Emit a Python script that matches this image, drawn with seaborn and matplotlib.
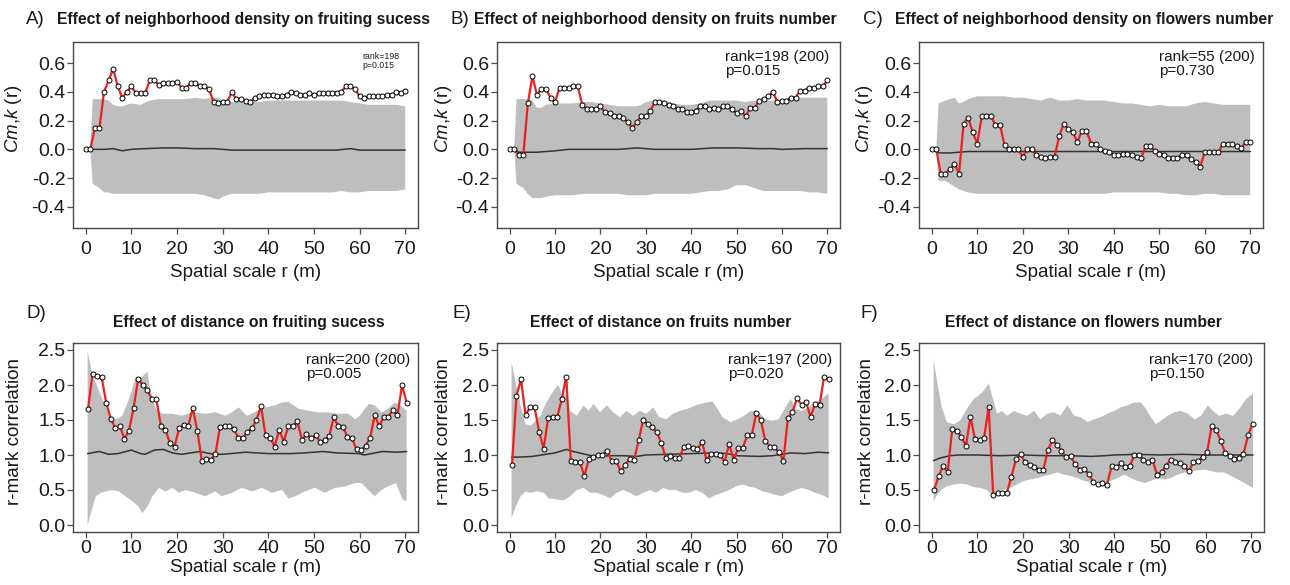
import numpy as np
import pandas as pd
import matplotlib
matplotlib.use("Agg")
import matplotlib.pyplot as plt
import seaborn as sns

# ---------------- data ----------------
# top row: neighborhood density (Cm,k(r)), r = 0..70
A_obs = [0.00, 0.00, 0.15, 0.15, 0.40, 0.48, 0.56, 0.44, 0.36, 0.40,
         0.44, 0.39, 0.39, 0.39, 0.48, 0.48, 0.45, 0.46, 0.46, 0.46,
         0.47, 0.43, 0.43, 0.46, 0.46, 0.44, 0.44, 0.42, 0.33, 0.32,
         0.33, 0.33, 0.40, 0.35, 0.35, 0.34, 0.33, 0.36, 0.37, 0.38,
         0.38, 0.38, 0.37, 0.37, 0.38, 0.40, 0.39, 0.38, 0.38, 0.39,
         0.38, 0.39, 0.39, 0.39, 0.39, 0.39, 0.40, 0.44, 0.44, 0.42,
         0.37, 0.36, 0.37, 0.37, 0.37, 0.37, 0.38, 0.38, 0.40, 0.39,
         0.41]
B_obs = [0.00, 0.00, -0.04, -0.04, 0.32, 0.51, 0.38, 0.42, 0.42, 0.36,
         0.33, 0.43, 0.43, 0.43, 0.44, 0.44, 0.31, 0.28, 0.28, 0.28,
         0.30, 0.26, 0.25, 0.23, 0.23, 0.22, 0.19, 0.15, 0.19, 0.23,
         0.23, 0.27, 0.33, 0.33, 0.32, 0.31, 0.30, 0.28, 0.28, 0.26,
         0.26, 0.27, 0.30, 0.30, 0.28, 0.29, 0.28, 0.30, 0.30, 0.28,
         0.25, 0.27, 0.23, 0.29, 0.29, 0.34, 0.35, 0.37, 0.40, 0.33,
         0.34, 0.34, 0.36, 0.36, 0.41, 0.41, 0.43, 0.43, 0.44, 0.44,
         0.48]
C_obs = [0.00, 0.00, -0.17, -0.17, -0.14, -0.10, -0.17, 0.18, 0.22, 0.12,
         0.04, 0.23, 0.23, 0.23, 0.17, 0.17, 0.03, 0.00, 0.00, 0.00,
         -0.05, 0.00, 0.00, -0.04, -0.05, -0.06, -0.05, -0.05, 0.09, 0.18,
         0.14, 0.12, 0.05, 0.13, 0.13, 0.04, 0.04, 0.00, -0.01, -0.02,
         -0.04, -0.04, -0.03, -0.03, -0.04, -0.05, -0.06, 0.02, 0.02, -0.01,
         -0.03, -0.04, -0.06, -0.06, -0.06, -0.04, -0.04, -0.07, -0.09, -0.12,
         -0.02, -0.02, -0.02, -0.02, 0.04, 0.04, 0.04, 0.02, 0.01, 0.05,
         0.05]

TOP_ENV_R = [1, 1.5, 3, 4, 5, 6, 7, 8, 10, 12, 14, 16, 18, 20, 22, 24, 26, 28, 29, 30,
             32, 34, 36, 38, 40, 42, 44, 46, 48, 50, 52, 54, 56, 58, 60, 62, 64, 66, 68, 70]
A_hi = [0.0, 0.35, 0.35, 0.35, 0.34, 0.31, 0.30, 0.30, 0.32, 0.31, 0.34, 0.35, 0.35, 0.35,
        0.35, 0.36, 0.35, 0.36, 0.36, 0.34, 0.33, 0.33, 0.33, 0.33, 0.34, 0.34, 0.34, 0.34,
        0.34, 0.34, 0.34, 0.34, 0.34, 0.33, 0.32, 0.31, 0.31, 0.31, 0.31, 0.30]
A_lo = [0.0, -0.24, -0.27, -0.30, -0.30, -0.31, -0.31, -0.31, -0.31, -0.31, -0.31, -0.31,
        -0.31, -0.31, -0.31, -0.31, -0.32, -0.34, -0.35, -0.33, -0.31, -0.31, -0.31, -0.31,
        -0.30, -0.30, -0.30, -0.30, -0.30, -0.30, -0.30, -0.30, -0.29, -0.30, -0.30, -0.29,
        -0.29, -0.29, -0.29, -0.28]
B_hi = [0.0, 0.35, 0.35, 0.35, 0.34, 0.29, 0.29, 0.31, 0.32, 0.32, 0.32, 0.33, 0.33, 0.32,
        0.31, 0.30, 0.30, 0.30, 0.31, 0.33, 0.34, 0.34, 0.32, 0.31, 0.31, 0.32, 0.34, 0.34,
        0.34, 0.34, 0.33, 0.34, 0.34, 0.34, 0.34, 0.35, 0.36, 0.36, 0.36, 0.36]
B_lo = [0.0, -0.24, -0.27, -0.31, -0.34, -0.34, -0.34, -0.33, -0.32, -0.32, -0.32, -0.31,
        -0.31, -0.31, -0.31, -0.31, -0.32, -0.32, -0.32, -0.32, -0.31, -0.31, -0.31, -0.31,
        -0.31, -0.30, -0.29, -0.29, -0.28, -0.25, -0.25, -0.27, -0.29, -0.29, -0.29, -0.29,
        -0.29, -0.30, -0.30, -0.31]
C_hi = [0.0, 0.32, 0.34, 0.35, 0.36, 0.32, 0.33, 0.35, 0.37, 0.37, 0.37, 0.37, 0.36, 0.36,
        0.35, 0.34, 0.36, 0.34, 0.34, 0.34, 0.35, 0.34, 0.34, 0.34, 0.33, 0.32, 0.32, 0.31,
        0.30, 0.31, 0.30, 0.30, 0.30, 0.32, 0.33, 0.32, 0.31, 0.31, 0.31, 0.31]
C_lo = [0.0, -0.22, -0.22, -0.24, -0.26, -0.28, -0.29, -0.30, -0.31, -0.31, -0.31, -0.31,
        -0.31, -0.31, -0.31, -0.31, -0.31, -0.31, -0.31, -0.31, -0.31, -0.31, -0.31, -0.31,
        -0.30, -0.30, -0.30, -0.30, -0.30, -0.30, -0.31, -0.31, -0.32, -0.32, -0.31, -0.31,
        -0.32, -0.32, -0.32, -0.32]

TOP_MEAN_R = [1, 2, 4, 6, 8, 10, 13, 17, 20, 24, 28, 32, 36, 40, 45, 50, 55, 58, 60, 65, 70]
A_mean = [0.0, 0.0, 0.0, 0.005, -0.01, 0.0, 0.005, 0.01, 0.01, 0.005, 0.005, -0.005, -0.005,
          -0.005, -0.005, -0.005, -0.005, 0.005, -0.005, -0.005, -0.005]
B_mean = [0.0, -0.02, -0.02, -0.02, -0.015, -0.01, 0.0, 0.0, 0.0, 0.0, 0.01, 0.0, 0.0, 0.0,
          0.01, 0.01, 0.005, 0.005, 0.0, 0.005, 0.005]
C_mean = [-0.02, -0.025, -0.025, -0.02, -0.015, -0.015, -0.015, -0.015, -0.015, -0.015,
          -0.015, -0.015, -0.015, -0.015, -0.015, -0.015, -0.015, -0.015, -0.015, -0.015, -0.015]

# bottom row: distance (r-mark correlation), r = 0.5 .. 70.3
D_obs = [1.66, 2.16, 2.13, 2.11, 1.74, 1.52, 1.38, 1.41, 1.23, 1.35,
         1.67, 2.08, 2.00, 1.93, 1.80, 1.80, 1.42, 1.36, 1.17, 1.12,
         1.38, 1.43, 1.41, 1.67, 1.35, 0.92, 0.94, 0.93, 1.02, 1.40,
         1.41, 1.41, 1.37, 1.25, 1.24, 1.33, 1.38, 1.50, 1.70, 1.28,
         1.25, 1.12, 1.36, 1.19, 1.41, 1.41, 1.48, 1.22, 1.30, 1.24,
         1.28, 1.19, 1.21, 1.27, 1.54, 1.41, 1.40, 1.26, 1.24, 1.08,
         1.07, 1.13, 1.25, 1.57, 1.41, 1.55, 1.55, 1.64, 1.57, 2.00,
         1.75]
E_obs = [0.86, 1.85, 2.08, 1.57, 1.68, 1.68, 1.33, 1.09, 1.53, 1.54,
         1.54, 1.80, 2.12, 0.92, 0.90, 0.90, 0.70, 0.94, 0.97, 1.00,
         1.00, 1.06, 0.92, 0.92, 0.77, 0.86, 0.94, 0.93, 1.21, 1.50,
         1.44, 1.40, 1.33, 1.17, 0.96, 0.98, 0.96, 0.96, 1.12, 1.13,
         1.10, 1.08, 1.19, 0.93, 1.01, 1.01, 1.00, 0.90, 1.16, 0.93,
         1.10, 1.10, 1.28, 1.28, 1.60, 1.50, 1.20, 1.12, 1.11, 1.04,
         0.92, 1.53, 1.61, 1.81, 1.72, 1.76, 1.54, 1.73, 1.72, 2.12,
         2.08]
F_obs = [0.50, 0.70, 0.84, 0.76, 1.37, 1.35, 1.26, 1.13, 1.54, 1.23,
         1.22, 1.25, 1.68, 0.43, 0.46, 0.46, 0.46, 0.69, 0.94, 1.01,
         0.90, 0.86, 0.83, 0.79, 0.78, 1.07, 1.21, 1.15, 1.06, 0.97,
         0.98, 0.87, 0.79, 0.80, 0.73, 0.61, 0.58, 0.60, 0.57, 0.84,
         0.83, 0.88, 0.83, 0.84, 1.00, 1.00, 0.93, 0.90, 0.93, 0.72,
         0.76, 0.85, 0.93, 0.90, 0.89, 0.84, 0.77, 0.90, 0.91, 0.97,
         1.04, 1.41, 1.36, 1.20, 1.03, 0.99, 0.95, 0.96, 1.02, 1.28,
         1.45]

D_hi_r = [0.4, 1.5, 3, 4, 5, 6, 8, 9.5, 11, 12, 13, 13.5, 14.2, 15.3, 16.8, 19, 21, 23.3,
          26.2, 28.4, 30.6, 32, 33.5, 35.3, 37, 39.3, 41.5, 43, 44.4, 46.6, 48.8, 51, 53,
          55.3, 57.5, 59, 60, 62, 63.3, 64.8, 66.2, 67.7, 69, 70.3]
D_hi = [2.48, 2.14, 1.90, 1.75, 1.59, 1.49, 1.56, 1.80, 2.12, 2.09, 2.16, 2.19, 1.90, 1.66,
        1.59, 1.59, 1.56, 1.61, 1.59, 1.61, 1.56, 1.61, 1.68, 1.56, 1.61, 1.68, 1.71, 1.75,
        1.76, 1.66, 1.63, 1.61, 1.61, 1.59, 1.59, 1.51, 1.56, 1.73, 1.71, 1.61, 1.66, 1.75,
        1.71, 1.63]
D_lo_r = [0.4, 1.1, 2.2, 3.3, 4.4, 5.8, 7.3, 8.7, 10.2, 11.6, 12.4, 13.5, 14.6, 16, 17.5,
          19, 20.4, 21.8, 24, 26.2, 28.4, 29.8, 32, 34.2, 36.4, 38.6, 40.8, 43, 44.4, 45.9,
          48, 50.2, 52.4, 54.6, 56.8, 59, 60.4, 61.9, 63.3, 64.8, 66.2, 68, 68.8, 69.5, 70.3]
D_lo = [0.0, 0.17, 0.41, 0.46, 0.48, 0.50, 0.48, 0.41, 0.34, 0.26, 0.17, 0.26, 0.41, 0.53,
        0.48, 0.53, 0.46, 0.50, 0.46, 0.41, 0.48, 0.41, 0.46, 0.53, 0.48, 0.53, 0.46, 0.50,
        0.38, 0.41, 0.48, 0.53, 0.46, 0.53, 0.55, 0.60, 0.60, 0.50, 0.41, 0.50, 0.55, 0.60,
        0.46, 0.36, 0.34]
D_mean_r = [0.4, 3, 5, 7, 10, 12, 13, 15, 17, 19, 21, 25, 28, 30, 35, 40, 45, 48, 52, 55,
            60, 61, 65, 68, 70.3]
D_mean = [1.02, 1.05, 1.01, 1.02, 1.07, 1.02, 1.01, 1.07, 1.08, 1.03, 1.01, 1.05, 1.01,
          1.01, 1.04, 1.02, 1.02, 1.03, 1.05, 1.03, 1.02, 1.00, 1.05, 1.04, 1.05]

E_hi_r = [0.4, 1.3, 2.4, 3.5, 4.6, 5.7, 6.8, 7.9, 9, 10, 10.8, 11.5, 12.3, 13.3, 14.8, 16.3,
          17.4, 18.5, 19.9, 21.4, 22.8, 24.3, 25.7, 27.2, 28.7, 30.1, 31.6, 33, 34.5, 36,
          37.4, 39.2, 41, 43.3, 44.7, 45.8, 46.9, 48.7, 50.2, 51.6, 53.1, 54.9, 56.4, 57.8,
          59.3, 60.8, 61.9, 63, 64.4, 65.9, 67.3, 68.8, 70.3]
E_hi = [2.33, 2.04, 1.71, 1.44, 1.42, 1.49, 1.56, 1.73, 1.85, 1.95, 2.00, 1.85, 1.88, 1.63,
        1.56, 1.71, 1.63, 1.73, 1.61, 1.71, 1.61, 1.54, 1.63, 1.56, 1.63, 1.59, 1.68, 1.54,
        1.51, 1.59, 1.63, 1.66, 1.71, 1.75, 1.76, 1.66, 1.54, 1.47, 1.51, 1.56, 1.63, 1.61,
        1.51, 1.49, 1.51, 1.68, 1.80, 1.66, 1.63, 1.68, 1.75, 1.80, 1.88]
E_lo_r = [0.4, 1.3, 2.4, 3.5, 4.6, 6, 7.5, 8.6, 10, 11.9, 13.3, 14.8, 16.3, 17.7, 19.2, 20.6,
          22.1, 23.6, 25, 26.5, 27.9, 29.4, 30.9, 32.3, 33.8, 35.2, 36.7, 38.1, 39.6, 41,
          42.5, 44, 45.4, 46.9, 48.4, 49.8, 51.3, 52.7, 54.2, 55.7, 57.1, 58.6, 60, 61.5, 63,
          64.4, 65.9, 67.3, 68.8, 70.3]
E_lo = [0.10, 0.26, 0.41, 0.48, 0.46, 0.48, 0.46, 0.38, 0.37, 0.35, 0.41, 0.50, 0.53, 0.46,
        0.46, 0.43, 0.38, 0.46, 0.50, 0.46, 0.41, 0.46, 0.50, 0.46, 0.53, 0.50, 0.50, 0.46,
        0.46, 0.50, 0.46, 0.38, 0.43, 0.46, 0.50, 0.55, 0.58, 0.55, 0.53, 0.48, 0.46, 0.43,
        0.41, 0.46, 0.50, 0.53, 0.50, 0.46, 0.43, 0.38]
E_mean_r = [0.4, 2, 5, 8, 10, 12.5, 14, 16, 18, 20, 22, 25, 28, 30, 35, 40, 45, 48, 50, 55,
            58, 60, 62, 65, 68, 70.3]
E_mean = [0.97, 0.97, 0.98, 1.01, 1.03, 1.08, 1.05, 1.02, 0.99, 0.98, 0.99, 0.99, 0.98,
          1.00, 1.01, 1.02, 1.03, 1.02, 0.99, 0.98, 0.99, 1.01, 1.03, 1.02, 1.04, 1.03]

F_hi_r = [0.4, 1.2, 2.2, 3.3, 4.8, 6.2, 7.7, 9.2, 10.3, 11.4, 12.5, 13.2, 14.3, 15.4, 16.5,
          18, 19.4, 20.9, 22.4, 23.8, 25.3, 26.8, 28.2, 29.7, 31.2, 32.6, 34.1, 35.6, 37,
          38.5, 40, 41.4, 42.9, 44.4, 45.8, 46.9, 48, 49.1, 50.2, 51.7, 53.2, 54.6, 56.1,
          57.6, 59, 60.5, 61.6, 63, 64.5, 66, 67.4, 68.9, 70.4]
F_hi = [2.36, 2.04, 1.68, 1.47, 1.44, 1.49, 1.66, 1.80, 1.85, 1.92, 2.02, 1.85, 1.59, 1.63,
        1.56, 1.63, 1.59, 1.56, 1.63, 1.51, 1.59, 1.61, 1.56, 1.71, 1.56, 1.54, 1.47, 1.51,
        1.54, 1.59, 1.63, 1.68, 1.71, 1.75, 1.75, 1.66, 1.54, 1.44, 1.49, 1.56, 1.61, 1.63,
        1.59, 1.51, 1.56, 1.71, 1.63, 1.56, 1.59, 1.56, 1.66, 1.80, 1.88]
F_lo_r = [0.4, 1.2, 2.2, 3.3, 4.8, 6.2, 7.7, 9.2, 10.6, 12.1, 13.2, 14.3, 15.8, 17.2, 18.7,
          20.2, 21.6, 23.1, 24.6, 26, 27.5, 29, 30.4, 31.9, 33.4, 34.8, 36.3, 37.8, 39.2,
          40.7, 42.2, 43.6, 45.1, 46.6, 48, 49.5, 51, 52.4, 53.9, 55.4, 56.8, 58.3, 59.8,
          61.2, 62.7, 64.2, 65.6, 67.1, 68.5, 70.4]
F_lo = [0.34, 0.43, 0.51, 0.55, 0.58, 0.59, 0.58, 0.54, 0.53, 0.50, 0.43, 0.48, 0.50, 0.53,
        0.58, 0.63, 0.65, 0.67, 0.70, 0.72, 0.75, 0.72, 0.70, 0.67, 0.63, 0.61, 0.63, 0.60,
        0.63, 0.67, 0.72, 0.67, 0.63, 0.60, 0.63, 0.67, 0.65, 0.67, 0.72, 0.75, 0.77, 0.78,
        0.79, 0.77, 0.75, 0.75, 0.70, 0.65, 0.60, 0.53]
F_mean_r = [0.4, 2, 4, 6, 10, 15, 20, 25, 30, 35, 38, 40, 45, 50, 55, 60, 65, 70.4]
F_mean = [0.92, 0.96, 0.99, 1.00, 1.00, 0.99, 1.00, 0.99, 0.99, 0.98, 0.99, 1.00, 1.01,
          1.00, 1.01, 1.00, 1.00, 1.00]

LETTERS = ["A)", "B)", "C)", "D)", "E)", "F)"]
TITLES = ["Effect of neighborhood density on fruiting sucess",
          "Effect of neighborhood density on fruits number",
          "Effect of neighborhood density on flowers number",
          "Effect of distance on fruiting sucess",
          "Effect of distance on fruits number",
          "Effect of distance on flowers number"]
STATS = ["rank=198\np=0.015", "rank=198 (200)\np=0.015", "rank=55 (200)\np=0.730",
         "rank=200 (200)\np=0.005", "rank=197 (200)\np=0.020", "rank=170 (200)\np=0.150"]
TOP_YTICKS = [-0.4, -0.2, 0.0, 0.2, 0.4, 0.6]
BOT_YTICKS = [0.0, 0.5, 1.0, 1.5, 2.0, 2.5]
XTICKS = [0, 10, 20, 30, 40, 50, 60, 70]
XLABEL = "Spatial scale r (m)"
TOP_YLABEL = r"$\mathit{Cm}$,$\mathit{k}$ (r)"
BOT_YLABEL = "r-mark correlation"

# ---------------- style ----------------
sns.set_theme(style="white")
plt.rcParams['font.family'] = ['Liberation Sans', 'DejaVu Sans']
plt.rcParams['axes.unicode_minus'] = False
plt.rcParams['mathtext.fontset'] = 'custom'
plt.rcParams['mathtext.it'] = 'Liberation Sans:italic'
plt.rcParams['mathtext.rm'] = 'Liberation Sans'

RED = "#e8231f"
GREY = "#bebebe"
FRAME = "#4a4a4a"
TXT = "#1a1a1a"

W, H = 1290, 585
fig = plt.figure(figsize=(W / 100, H / 100), dpi=100)


def frac_box(x0, x1, ytop, ybot):
    return [x0 / W, 1 - ybot / H, (x1 - x0) / W, (ybot - ytop) / H]


top_r = np.arange(71)
bot_r = np.linspace(0.5, 70.3, 71)

panels = [
    dict(box=frac_box(73, 418, 42, 228), r=top_r, obs=A_obs, hi_r=TOP_ENV_R, hi=A_hi,
         lo_r=TOP_ENV_R, lo=A_lo, m_r=TOP_MEAN_R, m=A_mean, top=True,
         stat_xy=(0.838, 0.945), stat_fs=6.3, xl=0.577, yl=-0.142),
    dict(box=frac_box(497, 840, 42, 228), r=top_r, obs=B_obs, hi_r=TOP_ENV_R, hi=B_hi,
         lo_r=TOP_ENV_R, lo=B_lo, m_r=TOP_MEAN_R, m=B_mean, top=True,
         stat_xy=(0.665, 0.955), stat_fs=11, xl=0.557, yl=-0.125),
    dict(box=frac_box(919, 1263, 42, 228), r=top_r, obs=C_obs, hi_r=TOP_ENV_R, hi=C_hi,
         lo_r=TOP_ENV_R, lo=C_lo, m_r=TOP_MEAN_R, m=C_mean, top=True,
         stat_xy=(0.698, 0.955), stat_fs=11, xl=0.570, yl=-0.128),
    dict(box=frac_box(73, 418, 343, 532), r=bot_r, obs=D_obs, hi_r=D_hi_r, hi=D_hi,
         lo_r=D_lo_r, lo=D_lo, m_r=D_mean_r, m=D_mean, top=False,
         stat_xy=(0.675, 0.945), stat_fs=11, xl=0.530, yl=-0.145),
    dict(box=frac_box(497, 840, 343, 532), r=bot_r, obs=E_obs, hi_r=E_hi_r, hi=E_hi,
         lo_r=E_lo_r, lo=E_lo, m_r=E_mean_r, m=E_mean, top=False,
         stat_xy=(0.673, 0.945), stat_fs=11, xl=0.557, yl=-0.131),
    dict(box=frac_box(919, 1264, 343, 532), r=bot_r, obs=F_obs, hi_r=F_hi_r, hi=F_hi,
         lo_r=F_lo_r, lo=F_lo, m_r=F_mean_r, m=F_mean, top=False,
         stat_xy=(0.667, 0.945), stat_fs=11, xl=0.568, yl=-0.128),
]

for i, p in enumerate(panels):
    ax = fig.add_axes(p["box"])
    # simulation envelope (polygon: upper edge forward, lower edge backward)
    poly_x = list(p["hi_r"]) + list(p["lo_r"])[::-1]
    poly_y = list(p["hi"]) + list(p["lo"])[::-1]
    ax.fill(poly_x, poly_y, color=GREY, lw=0, zorder=1)
    # mean of simulations
    sns.lineplot(x=p["m_r"], y=p["m"], ax=ax, color="#333333", lw=1.1, zorder=2,
                 sort=False, estimator=None)
    # observed
    df = pd.DataFrame({"r": p["r"], "v": p["obs"]})
    sns.lineplot(data=df, x="r", y="v", ax=ax, color=RED, lw=1.6, zorder=3,
                 marker="o", markersize=3.6, markerfacecolor="white",
                 markeredgecolor="black", markeredgewidth=0.7, estimator=None)

    ax.set_xlim(-2.8, 72.8)
    ax.set_xticks(XTICKS)
    ax.set_xticklabels([str(t) for t in XTICKS])
    if p["top"]:
        ax.set_ylim(-0.548, 0.748)
        ax.set_yticks(TOP_YTICKS)
        ax.set_yticklabels([f"{t:.1f}" for t in TOP_YTICKS])
        ax.set_ylabel(TOP_YLABEL, fontsize=13.5, color=TXT)
        xpad = 5.0
        ax.xaxis.set_label_coords(p["xl"], -0.195)
        ax.yaxis.set_label_coords(p["yl"], 0.59)
    else:
        ax.set_ylim(-0.1, 2.6)
        ax.set_yticks(BOT_YTICKS)
        ax.set_yticklabels([f"{t:.1f}" for t in BOT_YTICKS])
        ax.set_ylabel(BOT_YLABEL, fontsize=13.5, color=TXT)
        xpad = 1.0
        ax.xaxis.set_label_coords(p["xl"], -0.145)
        ax.yaxis.set_label_coords(p["yl"], 0.533)
    ax.set_xlabel(XLABEL, fontsize=13.5, color=TXT)

    ax.tick_params(axis="x", direction="out", length=4.5, width=0.9, color=FRAME,
                   labelsize=14, labelcolor=TXT, pad=xpad, bottom=True)
    ax.tick_params(axis="y", direction="out", length=4.5, width=0.9, color=FRAME,
                   labelsize=14, labelcolor=TXT, pad=1.0, left=True)
    for s in ax.spines.values():
        s.set_visible(True)
        s.set_color(FRAME)
        s.set_linewidth(1.0)
    ax.grid(False)
    ax.set_facecolor("white")

    ax.text(p["stat_xy"][0], p["stat_xy"][1], STATS[i], transform=ax.transAxes,
            ha="left", va="top", fontsize=p["stat_fs"], color=TXT, linespacing=0.95,
            zorder=5)

# panel letters and titles
LFS, TFS = 13.5, 11.3
fig.text(26 / W, 1 - 24 / H, LETTERS[0], fontsize=LFS, color=TXT, va="baseline", ha="left")
fig.text(57 / W, 1 - 24 / H, TITLES[0], fontsize=TFS, fontweight="bold", color=TXT,
         va="baseline", ha="left")
fig.text(451 / W, 1 - 24 / H, LETTERS[1], fontsize=LFS, color=TXT, va="baseline", ha="left")
fig.text(474 / W, 1 - 24 / H, TITLES[1], fontsize=TFS, fontweight="bold", color=TXT,
         va="baseline", ha="left")
fig.text(863 / W, 1 - 24 / H, LETTERS[2], fontsize=LFS, color=TXT, va="baseline", ha="left")
fig.text(895 / W, 1 - 24 / H, TITLES[2], fontsize=TFS, fontweight="bold", color=TXT,
         va="baseline", ha="left")

fig.text(27 / W, 1 - 318 / H, LETTERS[3], fontsize=LFS, color=TXT, va="baseline", ha="left")
fig.text(249 / W, 1 - 327 / H, TITLES[3], fontsize=TFS, fontweight="bold", color=TXT,
         va="baseline", ha="center")
fig.text(453 / W, 1 - 318 / H, LETTERS[4], fontsize=LFS, color=TXT, va="baseline", ha="left")
fig.text(661 / W, 1 - 327 / H, TITLES[4], fontsize=TFS, fontweight="bold", color=TXT,
         va="baseline", ha="center")
fig.text(860 / W, 1 - 318 / H, LETTERS[5], fontsize=LFS, color=TXT, va="baseline", ha="left")
fig.text(1083 / W, 1 - 327 / H, TITLES[5], fontsize=TFS, fontweight="bold", color=TXT,
         va="baseline", ha="center")

fig.savefig("out.png", dpi=100, facecolor="white")
